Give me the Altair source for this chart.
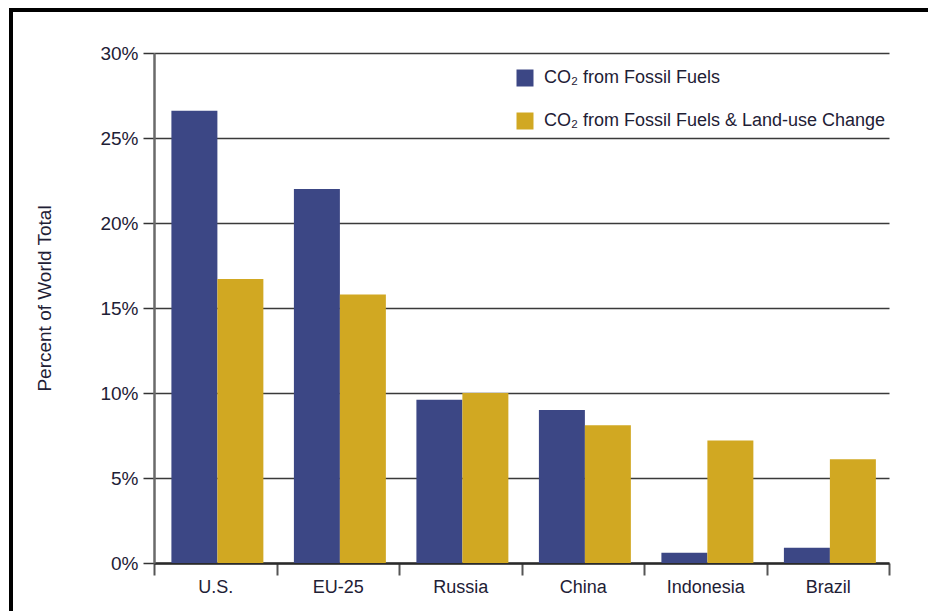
import altair as alt
import pandas as pd

# Share of world CO2 emissions, by country / region
countries = ["U.S.", "EU-25", "Russia", "China", "Indonesia", "Brazil"]
fossil = [26.6, 22.0, 9.6, 9.0, 0.6, 0.9]
fossil_land_use = [16.7, 15.8, 10.0, 8.1, 7.2, 6.1]

series_names = ["CO₂ from Fossil Fuels", "CO₂ from Fossil Fuels & Land-use Change"]
series_colors = ["#3C4785", "#D1A822"]
y_ticks = [0, 5, 10, 15, 20, 25, 30]

rows = []
for c, a, b in zip(countries, fossil, fossil_land_use):
    rows.append({"country": c, "series": series_names[0], "value": a})
    rows.append({"country": c, "series": series_names[1], "value": b})
df = pd.DataFrame(rows)

FONT = "Liberation Sans"
TEXT = "#1E2035"
W, H = 735, 510

bars = alt.Chart(df).mark_bar().encode(
    x=alt.X(
        "country:N",
        sort=countries,
        scale=alt.Scale(paddingInner=0, paddingOuter=0),
        axis=alt.Axis(
            title=None,
            labelAngle=0,
            labelFont=FONT,
            labelFontSize=18,
            labelColor=TEXT,
            labelPadding=3,
            tickBand="extent",
            tickSize=12,
            tickWidth=2,
            tickColor="#555555",
            domainColor="#2a2a2a",
            domainWidth=2.5,
            grid=False,
        ),
    ),
    xOffset=alt.XOffset(
        "series:N",
        sort=series_names,
        scale=alt.Scale(paddingInner=0, paddingOuter=0.332, align=0.57),
    ),
    y=alt.Y(
        "value:Q",
        scale=alt.Scale(domain=[0, 30], nice=False),
        axis=alt.Axis(
            title="Percent of World Total",
            titleFont=FONT,
            titleFontSize=19,
            titleFontWeight="normal",
            titleColor=TEXT,
            titleX=-110,
            titleY=245,
            titleAlign="center",
            titleBaseline="middle",
            values=y_ticks,
            labelExpr="datum.value + '%'",
            labelFont=FONT,
            labelFontSize=19,
            labelColor=TEXT,
            labelPadding=5,
            tickSize=11,
            tickWidth=1.5,
            tickColor="#333333",
            domainColor="#6a6a6a",
            domainWidth=2.5,
            grid=True,
            gridColor="#3a3a3a",
            gridWidth=1.5,
        ),
    ),
    color=alt.Color(
        "series:N",
        sort=series_names,
        scale=alt.Scale(domain=series_names, range=series_colors),
        legend=alt.Legend(
            title=None,
            orient="none",
            legendX=362,
            legendY=16,
            padding=0,
            symbolType="square",
            symbolSize=289,
            symbolStrokeWidth=0,
            symbolOpacity=1,
            labelFont=FONT,
            labelFontSize=18,
            labelColor=TEXT,
            labelOffset=10,
            rowPadding=25,
            labelLimit=500,
        ),
    ),
)

# Black frame around the figure
frame = alt.Chart(pd.DataFrame({"f": [0]})).mark_rect(
    filled=False, stroke="black", strokeWidth=4
).encode(
    x=alt.value(-143),
    x2=alt.value(W + 80),
    y=alt.value(-43),
    y2=alt.value(H + 80),
)

chart = (
    alt.layer(bars, frame)
    .properties(
        width=W,
        height=H,
        autosize=alt.AutoSizeParams(type="none"),
        padding={"left": 154, "top": 53, "right": 39, "bottom": 48},
        background="white",
    )
    .configure_view(stroke=None)
)

chart.save("out.html", embed_options={"renderer": "svg", "actions": False})
